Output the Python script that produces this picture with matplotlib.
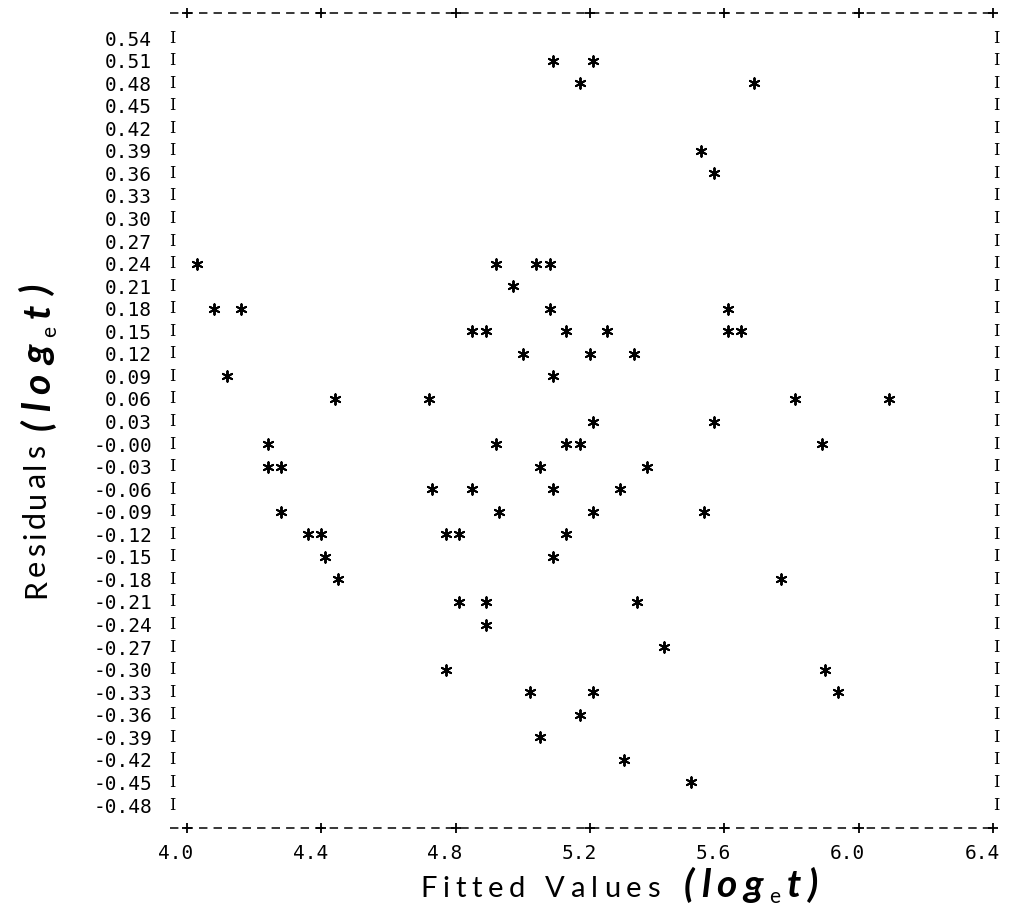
import numpy as np
import matplotlib.pyplot as plt
from matplotlib.transforms import ScaledTranslation

# residual rows printed on the left (top to bottom)
row_values = np.round(np.arange(0.54, -0.481, -0.03), 2)
row_labels = ["0.54", "0.51", "0.48", "0.45", "0.42", "0.39", "0.36", "0.33",
              "0.30", "0.27", "0.24", "0.21", "0.18", "0.15", "0.12", "0.09",
              "0.06", "0.03", "-0.00", "-0.03", "-0.06", "-0.09", "-0.12",
              "-0.15", "-0.18", "-0.21", "-0.24", "-0.27", "-0.30", "-0.33",
              "-0.36", "-0.39", "-0.42", "-0.45", "-0.48"]

x_ticks = [4.0, 4.4, 4.8, 5.2, 5.6, 6.0, 6.4]
x_labels = ["4.0", "4.4", "4.8", "5.2", "5.6", "6.0", "6.4"]

# fitted values (log t) and residuals, read row by row
fitted = [5.09, 5.21,
          5.17, 5.69,
          5.53,
          5.57,
          4.03, 4.92, 5.04, 5.08,
          4.97,
          4.08, 4.16, 5.08, 5.61,
          4.85, 4.89, 5.13, 5.25, 5.61, 5.65,
          5.00, 5.20, 5.33,
          4.12, 5.09,
          4.44, 4.72, 5.81, 6.09,
          5.21, 5.57,
          4.24, 4.92, 5.13, 5.17, 5.89,
          4.24, 4.28, 5.05, 5.37,
          4.73, 4.85, 5.09, 5.29,
          4.28, 4.93, 5.21, 5.54,
          4.36, 4.40, 4.77, 4.81, 5.13,
          4.41, 5.09,
          4.45, 5.77,
          4.81, 4.89, 5.34,
          4.89,
          5.42,
          4.77, 5.90,
          5.02, 5.21, 5.94,
          5.17,
          5.05,
          5.30,
          5.50]
resid = [0.51, 0.51,
         0.48, 0.48,
         0.39,
         0.36,
         0.24, 0.24, 0.24, 0.24,
         0.21,
         0.18, 0.18, 0.18, 0.18,
         0.15, 0.15, 0.15, 0.15, 0.15, 0.15,
         0.12, 0.12, 0.12,
         0.09, 0.09,
         0.06, 0.06, 0.06, 0.06,
         0.03, 0.03,
         0.00, 0.00, 0.00, 0.00, 0.00,
         -0.03, -0.03, -0.03, -0.03,
         -0.06, -0.06, -0.06, -0.06,
         -0.09, -0.09, -0.09, -0.09,
         -0.12, -0.12, -0.12, -0.12, -0.12,
         -0.15, -0.15,
         -0.18, -0.18,
         -0.21, -0.21, -0.21,
         -0.24,
         -0.27,
         -0.30, -0.30,
         -0.33, -0.33, -0.33,
         -0.36,
         -0.39,
         -0.42,
         -0.45]

W, H = 1011, 909
fig = plt.figure(figsize=(W / 100, H / 100), dpi=100)
ax = fig.add_axes([165 / W, 1 - 840 / H, 840 / W, 835 / H])
ax.set_xlim(3.9345, 6.436)
ax.set_ylim(-0.5265, 0.5839)
for s in ax.spines.values():
    s.set_visible(False)

mono = 'DejaVu Sans Mono'

# line-printer frame: dashed top/bottom with '+' at ticks, 'I' on the sides
x_left, x_right = 3.949, 6.406
y_top, y_bot = 0.5732, -0.5105
for yy in (y_top, y_bot):
    ax.plot([x_left, x_right], [yy, yy], color='black', lw=1.1,
            linestyle=(0, (5.5, 4.0)), clip_on=False)
    ax.plot(x_ticks, [yy] * len(x_ticks), linestyle='none', marker='+',
            ms=7, mew=1.3, color='black', clip_on=False)
for r in row_values:
    ax.text(3.955, r, 'I', ha='center', va='center', family='DejaVu Serif',
            fontsize=11.5, clip_on=False)
    ax.text(6.410, r, 'I', ha='center', va='center', family='DejaVu Serif',
            fontsize=11.5, clip_on=False)

ax.scatter(fitted, resid, marker=(6, 2, 0), s=58, linewidths=1.4,
           color='black', clip_on=False, zorder=3)

ax.set_yticks(row_values, row_labels, family=mono, fontsize=14)
ax.set_xticks(x_ticks, x_labels, family=mono, fontsize=14)
ax.tick_params(axis='y', length=0, pad=9.4)
ax.tick_params(axis='x', length=0, pad=3.0)
shift = ScaledTranslation(-11 / 100, 0, fig.dpi_scale_trans)
for lab in ax.get_xticklabels():
    lab.set_transform(lab.get_transform() + shift)

# axis titles, spread out letter by letter like the original lettering
renderer = fig.canvas.get_renderer()


def char_width(c, kw):
    t = fig.text(0, 0, c, **kw)
    w = t.get_window_extent(renderer).width
    t.remove()
    return w


def tracked(start, end, base, pieces, vertical=False):
    widths = [char_width(c, kw) for c, kw, _ in pieces]
    gap = (abs(end - start) - sum(widths)) / (len(pieces) - 1)
    pos = start
    for (c, kw, dy), w in zip(pieces, widths):
        if vertical:
            fig.text((base + dy) / W, 1 - pos / H, c, rotation=90,
                     rotation_mode='anchor', ha='left', va='baseline', **kw)
            pos -= w + gap
        else:
            fig.text(pos / W, 1 - (base + dy) / H, c, ha='left',
                     va='baseline', **kw)
            pos += w + gap


plain = dict(family='Lato', fontsize=21)
bold = dict(family='Lato', fontsize=28, weight='bold', style='italic')
sub = dict(family='Lato', fontsize=15)


def word(s, kw):
    return [(c, kw, 0) for c in s]


def log_t():
    return word("(log", bold) + [("e", sub, 6)] + word("t)", bold)


tracked(420, 525, 897, word("Fitted", plain))
tracked(545, 660, 897, word("Values", plain))
tracked(684, 818, 897, log_t())

tracked(598, 445, 45, word("Residuals", dict(plain, fontsize=22)),
        vertical=True)
tracked(430, 285, 50, log_t(), vertical=True)

fig.savefig('out.png', dpi=100)
